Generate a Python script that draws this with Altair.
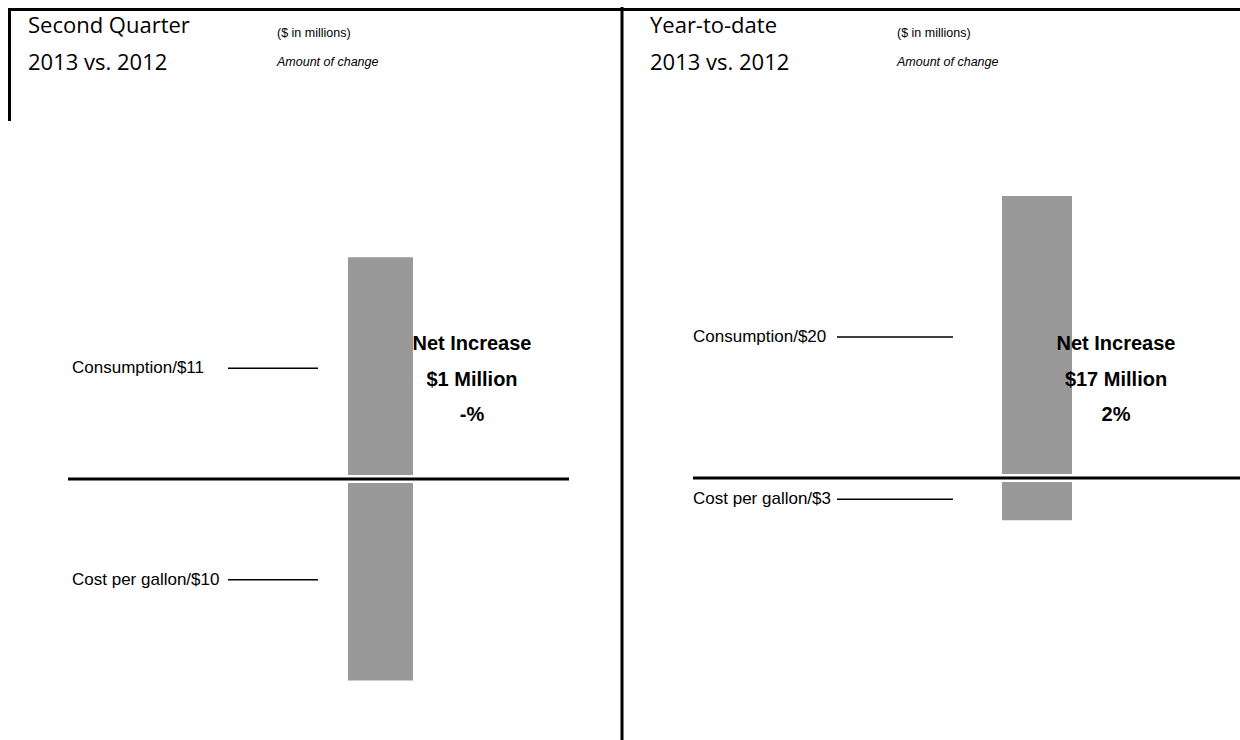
import altair as alt
import pandas as pd

# ---- data ----
categories = ["Consumption", "Cost per gallon"]
q2_values = [11, -10]
ytd_values = [20, -3]
q2_net = ["Net Increase", "$1 Million", "-%"]
ytd_net = ["Net Increase", "$17 Million", "2%"]
panel_titles = ["Second Quarter", "Year-to-date"]
period_label = "2013 vs. 2012"
unit_note = "($ in millions)"
sub_note = "Amount of change"

COND = "Liberation Sans, Arial, sans-serif"
TITLE_FONT = "Open Sans, Noto Sans, sans-serif"
BAR = "#999999"
W, H = 1240, 740


def make_df(values):
    rows = []
    for c, v in zip(categories, values):
        rows.append({"cat": c, "start": 0, "end": v, "mid": v / 2,
                     "label": f"{c}/${abs(v)}"})
    return pd.DataFrame(rows)


def panel(values, net, title, L):
    ox = L["ox"]
    df = make_df(values)
    zero_px, ppu = L["zero_px"], L["ppu"]
    yscale = alt.Scale(domain=[-(H - zero_px) / ppu, zero_px / ppu], nice=False, zero=False)
    base = alt.Chart(df)
    one = alt.Chart(pd.DataFrame({"zero": [0], "net": ["\n".join(net)], "title": [title],
                                  "period": [period_label], "unit": [unit_note], "sub": [sub_note]}))
    Y = lambda f: alt.Y(f, scale=yscale, axis=None)
    bars = base.mark_bar(color=BAR).encode(
        x=alt.value(ox + L["bar"][0]), x2=alt.value(ox + L["bar"][1]),
        y=Y("start:Q"), y2="end:Q",
    )
    labels = base.mark_text(font=COND, fontSize=17, align="left", baseline="middle", color="black").encode(
        x=alt.value(ox + L["label_x"]), y=Y("mid:Q"), text="label:N"
    )
    leaders = base.mark_rule(color="black", strokeWidth=1.5).encode(
        x=alt.value(ox + L["lead"][0]), x2=alt.value(ox + L["lead"][1]), y=Y("mid:Q"),
    )
    gap = one.mark_rule(color="white", strokeWidth=8).encode(
        x=alt.value(ox + L["base"][0]), x2=alt.value(ox + L["base"][1]), y=Y("zero:Q")
    )
    baseline = one.mark_rule(color="black", strokeWidth=3).encode(
        x=alt.value(ox + L["base"][0]), x2=alt.value(ox + L["base"][1]), y=Y("zero:Q")
    )
    net_text = one.mark_text(font=COND, fontSize=20, fontWeight="bold", align="center",
                             baseline="middle", lineHeight=35.5, lineBreak="\n", color="black").encode(
        x=alt.value(ox + L["net_x"]), y=alt.value(344), text="net:N"
    )
    t1 = one.mark_text(font=TITLE_FONT, fontSize=22, align="left", baseline="middle", color="black").encode(
        x=alt.value(ox + L["title_x"]), y=alt.value(25.5), text="title:N"
    )
    t2 = one.mark_text(font=TITLE_FONT, fontSize=22, align="left", baseline="middle", color="black").encode(
        x=alt.value(ox + L["title_x"]), y=alt.value(62.5), text="period:N"
    )
    n1 = one.mark_text(font=COND, fontSize=12.5, align="left", baseline="middle", color="black").encode(
        x=alt.value(ox + 277), y=alt.value(33), text="unit:N"
    )
    n2 = one.mark_text(font=COND, fontSize=12.5, fontStyle="italic", align="left", baseline="middle",
                       color="black").encode(
        x=alt.value(ox + 277), y=alt.value(62), text="sub:N"
    )
    vert = one.mark_rule(color="black", strokeWidth=3).encode(
        x=alt.value(ox + L["vert"][0]), y=alt.value(L["vert"][1]), y2=alt.value(L["vert"][2])
    )
    return [bars, gap, baseline, leaders, labels, net_text, t1, t2, n1, n2, vert]


left_layout = dict(ox=0, zero_px=479, ppu=20.15, bar=(348, 413), label_x=72, lead=(228, 318),
                   base=(68, 569), net_x=472, title_x=28, vert=(9.5, 8, 121))
right_layout = dict(ox=620, zero_px=478, ppu=14.1, bar=(382, 452), label_x=73, lead=(217, 333),
                    base=(73, 620), net_x=496, title_x=30, vert=(2, 7, 740))

top_rule = alt.Chart(pd.DataFrame({"k": [0]})).mark_rule(color="black", strokeWidth=3).encode(
    x=alt.value(8), x2=alt.value(W), y=alt.value(9.5)
)

layers = panel(q2_values, q2_net, panel_titles[0], left_layout) + \
    panel(ytd_values, ytd_net, panel_titles[1], right_layout) + [top_rule]

chart = alt.layer(*layers).resolve_scale(y="independent").properties(
    width=W, height=H, padding=0, background="white",
    autosize=alt.AutoSizeParams(type="none"),
).configure_view(strokeWidth=0)

chart.save("out.html", embed_options={"renderer": "svg", "actions": False})
